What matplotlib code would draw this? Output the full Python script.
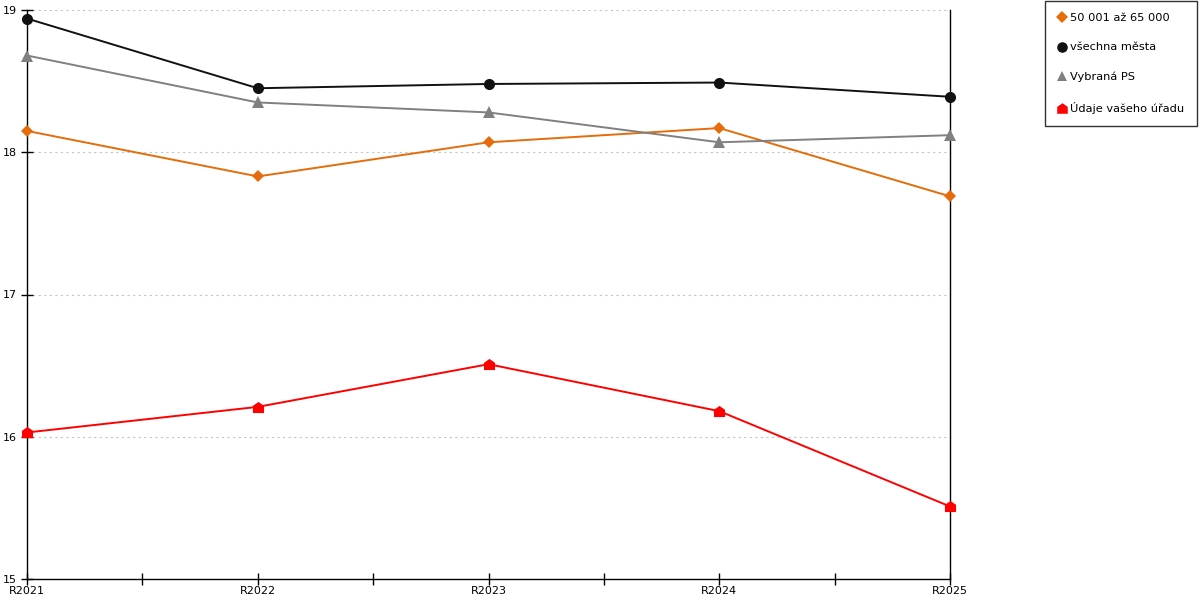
import numpy as np
import matplotlib
matplotlib.use('Agg')
import matplotlib.pyplot as plt
from matplotlib.path import Path
from matplotlib.lines import Line2D

plt.rcParams['font.family'] = ['DejaVu Sans']
plt.rcParams['font.size'] = 8

# data
years = ['R2021', 'R2022', 'R2023', 'R2024', 'R2025']
mesta_50_65 = [18.15, 17.83, 18.07, 18.17, 17.69]
vsechna_mesta = [18.94, 18.45, 18.48, 18.49, 18.39]
vybrana_ps = [18.68, 18.35, 18.28, 18.07, 18.12]
vas_urad = [16.03, 16.21, 16.51, 16.18, 15.51]

# marker ve tvaru domečku
house = Path([(-1, -1), (1, -1), (1, 0.3), (0, 1), (-1, 0.3), (-1, -1)],
             [Path.MOVETO, Path.LINETO, Path.LINETO, Path.LINETO, Path.LINETO, Path.CLOSEPOLY])

series = [
    ('50 001 až 65 000', mesta_50_65, '#E46C0A', 'D', 6),
    ('všechna města', vsechna_mesta, '#111111', 'o', 8),
    ('Vybraná PS', vybrana_ps, '#808080', '^', 8),
    ('Údaje vašeho úřadu', vas_urad, '#FF0000', house, 8),
]

fig = plt.figure(figsize=(12, 6), dpi=100)
ax = fig.add_axes([27 / 1200, 21 / 600, 923 / 1200, 569 / 600])

x = np.arange(len(years))
handles = []
for label, vals, color, marker, ms in series:
    ax.plot(x, vals, color=color, lw=1.4, marker=marker, markersize=ms,
            markeredgewidth=0, zorder=3, clip_on=False)
    handles.append(Line2D([], [], ls='none', marker=marker, color=color,
                          markersize=ms * 0.95, markeredgewidth=0, label=label))

ax.set_xlim(0, len(years) - 1)
ax.set_ylim(15, 19)
ax.set_xticks(x)
ax.set_xticklabels(years)
ax.set_xticks(np.arange(0.5, len(years) - 1, 1), minor=True)
ax.set_yticks([15, 16, 17, 18, 19])

ax.tick_params(axis='x', which='both', direction='inout', length=8, width=1, pad=1)
ax.tick_params(axis='y', direction='inout', length=9, width=1, pad=3)

ax.grid(axis='y', color='#c4c4c4', linestyle=(0, (2, 3)), linewidth=0.8)
ax.set_axisbelow(True)

ax.spines['top'].set_visible(False)
for s in ['left', 'right', 'bottom']:
    ax.spines[s].set_color('black')
    ax.spines[s].set_linewidth(1)

leg = fig.legend(handles=handles, loc='upper right', bbox_to_anchor=(0.9975, 0.999),
                 frameon=True, fancybox=False, labelspacing=1.7, handlelength=0.8,
                 handletextpad=0.35, borderpad=1.1, borderaxespad=0, fontsize=8.2)
leg.get_frame().set_edgecolor('black')
leg.get_frame().set_linewidth(1)

fig.savefig('out.png', dpi=100)
